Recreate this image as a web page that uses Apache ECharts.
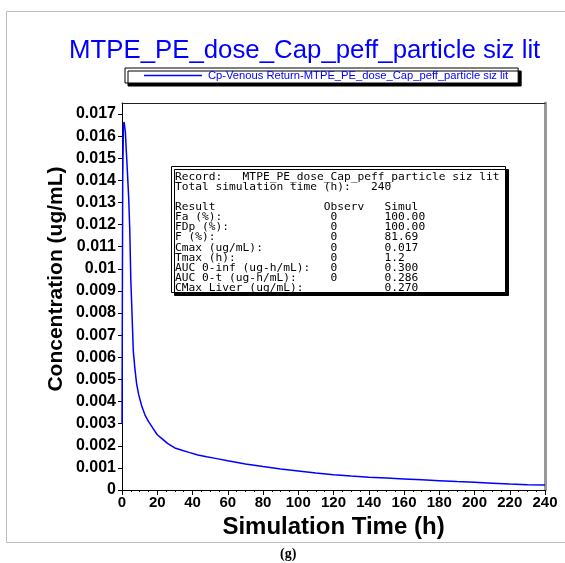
<!DOCTYPE html>
<html>
<head>
<meta charset="utf-8">
<script src="https://cdn.jsdelivr.net/npm/echarts@6.0.0/dist/echarts.min.js"></script>
<style>
  html, body { margin: 0; padding: 0; background: #fff; }
  #chart { width: 565px; height: 563px; }
</style>
</head>
<body>
<div id="chart"></div>
<script>
// simulated plasma curve
const timeH = [0, 0.4, 0.8, 1.2, 1.9, 2.4, 3.0, 3.8, 4.4, 5.0, 5.5, 6.4, 7.3, 8.3, 9.5, 11.2, 13, 15, 17.5, 20,
  23, 26, 30, 34, 38, 43, 48, 53, 60, 70, 80, 90, 100, 110, 120, 130, 140, 150, 160, 170, 180, 190, 200,
  210, 220, 230, 240];
const concentration = [0.0030, 0.0140, 0.0165, 0.01664, 0.0162, 0.0154, 0.0145, 0.0132, 0.0118, 0.0095, 0.0084,
  0.0063, 0.0055, 0.0048, 0.0043, 0.0038, 0.0034, 0.0031, 0.0028, 0.0025, 0.0023, 0.0021, 0.0019, 0.0018,
  0.0017, 0.00158, 0.0015, 0.00143, 0.00132, 0.00118, 0.00106, 0.00095, 0.00086, 0.00077, 0.00069, 0.00063,
  0.00058, 0.00054, 0.0005, 0.00046, 0.00042, 0.00038, 0.00035, 0.00031, 0.00027, 0.00024, 0.00023];
const yTickLabels = ['0', '0.001', '0.002', '0.003', '0.004', '0.005', '0.006', '0.007', '0.008', '0.009',
  '0.01', '0.011', '0.012', '0.013', '0.014', '0.015', '0.016', '0.017'];

const seriesName = 'Cp-Venous Return-MTPE_PE_dose_Cap_peff_particle siz lit';
const recordName = 'MTPE_PE_dose_Cap_peff_particle siz lit';
const totalSimTime = '240';
const resultLabels = ['Fa (%):', 'FDp (%):', 'F (%):', 'Cmax (ug/mL):', 'Tmax (h):',
  'AUC 0-inf (ug-h/mL):', 'AUC 0-t (ug-h/mL):', 'CMax Liver (ug/mL):'];
const resultObserv = ['0', '0', '0', '0', '0', '0', '0', ''];
const resultSimul = ['100.00', '100.00', '81.69', '0.017', '1.2', '0.300', '0.286', '0.270'];

const sans = '"Liberation Sans", Arial, sans-serif';
const mono = '"DejaVu Sans Mono", monospace';

// results table text
let lines = [];
lines.push('Record:   ' + recordName);
lines.push('Total simulation time (h):   ' + totalSimTime);
lines.push('');
lines.push('Result'.padEnd(22) + 'Observ'.padEnd(9) + 'Simul');
for (let i = 0; i < resultLabels.length; i++) {
  lines.push(resultLabels[i].padEnd(23) + resultObserv[i].padEnd(8) + resultSimul[i]);
}

const chart = echarts.init(document.getElementById('chart'));
chart.setOption({
  animation: false,
  title: {
    text: recordName,
    left: 64,
    top: 33,
    textStyle: { fontFamily: sans, fontSize: 25.8, fontWeight: 'normal', color: '#0000ff' }
  },
  legend: {
    data: [seriesName],
    left: 125,
    top: 68,
    padding: [2, 10, 2, 19],
    icon: 'rect',
    itemWidth: 58,
    itemHeight: 1.5,
    itemGap: 5,
    backgroundColor: '#fff',
    borderColor: '#000',
    borderWidth: 1,
    shadowColor: '#000',
    shadowOffsetX: 3,
    shadowOffsetY: 3,
    shadowBlur: 0,
    selectedMode: false,
    itemStyle: { color: '#0000ff' },
    textStyle: { fontFamily: sans, fontSize: 11.2, color: '#0000ff', padding: [0, 0, 0, 1] }
  },
  grid: { left: 122, right: 20, top: 103, bottom: 73 },
  xAxis: [
    {
      type: 'value',
      min: 0,
      max: 240,
      interval: 20,
      name: 'Simulation Time (h)',
      nameLocation: 'middle',
      nameGap: 24,
      nameTextStyle: { fontFamily: sans, fontSize: 24, fontWeight: 'bold', color: '#000' },
      axisLine: { onZero: false, lineStyle: { color: '#000', width: 1 } },
      axisTick: { inside: false, length: 5, lineStyle: { color: '#000' } },
      minorTick: { show: true, splitNumber: 4, length: 2, lineStyle: { color: '#000' } },
      axisLabel: { margin: 5, fontFamily: sans, fontSize: 15, fontWeight: 'bold', color: '#000' },
      splitLine: { show: false }
    },
    {
      type: 'value',
      position: 'top',
      min: 0,
      max: 240,
      axisLine: { onZero: false, lineStyle: { color: '#222', width: 1 } },
      axisTick: { show: false },
      axisLabel: { show: false },
      splitLine: { show: false }
    }
  ],
  yAxis: [
    {
      type: 'value',
      min: 0,
      max: 0.0175,
      axisLine: { onZero: false, lineStyle: { color: '#000', width: 1 } },
      axisTick: {
        inside: false,
        length: 4,
        customValues: yTickLabels.map(Number),
        lineStyle: { color: '#000' }
      },
      axisLabel: {
        margin: 6,
        customValues: yTickLabels.map(Number),
        formatter: function (v) { return String(v); },
        fontFamily: sans,
        fontSize: 16,
        fontWeight: 'bold',
        color: '#000'
      },
      splitLine: { show: false }
    },
    {
      type: 'value',
      position: 'right',
      min: 0,
      max: 0.0175,
      axisLine: { show: true, onZero: false, lineStyle: { color: '#999', width: 3 } },
      axisTick: { show: false },
      axisLabel: { show: false },
      splitLine: { show: false }
    }
  ],
  series: [
    {
      name: seriesName,
      type: 'line',
      xAxisIndex: 0,
      yAxisIndex: 0,
      symbol: 'none',
      showSymbol: false,
      lineStyle: { color: '#0000ff', width: 1.5 },
      itemStyle: { color: '#0000ff' },
      data: timeH.map(function (t, i) { return [t, concentration[i]]; })
    }
  ],
  graphic: [
    {
      // outer frame
      type: 'rect',
      silent: true,
      z: -1,
      shape: { x: 6.5, y: 11.5, width: 600, height: 531 },
      style: { fill: 'none', stroke: '#bdbdbd', lineWidth: 1 }
    },
    {
      // y axis title (sits a bit above the axis middle in the original)
      type: 'text',
      x: 56,
      y: 279,
      rotation: Math.PI / 2,
      style: {
        text: 'Concentration (ug/mL)',
        font: 'bold 21px ' + sans,
        fill: '#000',
        align: 'center',
        verticalAlign: 'middle'
      }
    },
    {
      // legend checkbox
      type: 'group',
      left: 129,
      top: 73,
      z: 110,
      children: [
        { type: 'rect', shape: { x: 0.5, y: 0.5, width: 9, height: 9 }, style: { fill: '#fff', stroke: '#000', lineWidth: 1 } },
        { type: 'polyline', shape: { points: [[2, 4.5], [4, 7], [8, 2]] }, style: { fill: 'none', stroke: '#000', lineWidth: 1.5 } }
      ]
    },
    {
      // results table
      type: 'group',
      left: 171,
      top: 166,
      z: 100,
      children: [
        {
          type: 'rect',
          shape: { x: 0.5, y: 0.5, width: 334, height: 126 },
          style: { fill: '#fff', stroke: '#000', lineWidth: 1, shadowColor: '#000', shadowOffsetX: 3, shadowOffsetY: 3, shadowBlur: 0 }
        },
        {
          type: 'text',
          x: 4,
          y: 6,
          scaleX: 1.06,
          style: { text: lines.join('\n'), font: '10.6px ' + mono, lineHeight: 10.1, fill: '#000' }
        }
      ]
    },
    {
      type: 'text',
      left: 280,
      top: 547,
      style: { text: '(g)', font: 'bold 14px "Liberation Serif", "DejaVu Serif", serif', fill: '#000' }
    }
  ]
});
</script>
</body>
</html>
